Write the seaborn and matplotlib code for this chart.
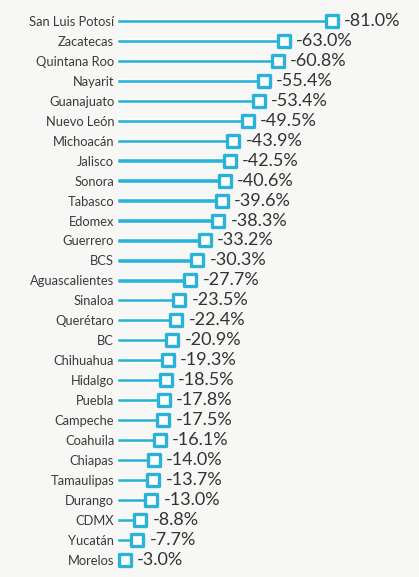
import matplotlib
matplotlib.use("Agg")
import matplotlib.pyplot as plt
import seaborn as sns
import pandas as pd

states = ["San Luis Potosí", "Zacatecas", "Quintana Roo", "Nayarit", "Guanajuato",
          "Nuevo León", "Michoacán", "Jalisco", "Sonora", "Tabasco", "Edomex",
          "Guerrero", "BCS", "Aguascalientes", "Sinaloa", "Querétaro", "BC",
          "Chihuahua", "Hidalgo", "Puebla", "Campeche", "Coahuila", "Chiapas",
          "Tamaulipas", "Durango", "CDMX", "Yucatán", "Morelos"]
changes = [-81.0, -63.0, -60.8, -55.4, -53.4, -49.5, -43.9, -42.5, -40.6, -39.6,
           -38.3, -33.2, -30.3, -27.7, -23.5, -22.4, -20.9, -19.3, -18.5, -17.8,
           -17.5, -16.1, -14.0, -13.7, -13.0, -8.8, -7.7, -3.0]

df = pd.DataFrame({"state": states, "change": changes})
df["mag"] = -df["change"]

sns.set_theme(style="white")
plt.rcParams["font.family"] = ["Lato", "DejaVu Sans"]

color = "#2ab2d9"
bg = "#f7f7f5"
fig = plt.figure(figsize=(4.19, 5.77), dpi=100)
x0 = 117
ax = fig.add_axes([x0 / 419, 0, 1 - x0 / 419, 1])

sns.barplot(data=df, x="mag", y="state", orient="h", color=color, width=0.22,
            saturation=1, ax=ax)
sns.scatterplot(data=df, x="mag", y="state", marker="s", s=66, color="white",
                edgecolor=color, linewidth=2.4, zorder=5, ax=ax)

n = len(states)
step = 19.95
top = 21
ax.set_xlim(0, (419 - x0) / 2.65)
ax.set_ylim(n - 1 + (577 - (top + (n - 1) * step)) / step, -top / step)

for i, (m, c) in enumerate(zip(df["mag"], df["change"])):
    ax.text(m + 4.6, i, f"{c:.1f}%", va="center", ha="left", fontsize=13,
            color="#333333")

ax.set_xlabel("")
ax.set_ylabel("")
ax.set_xticks([])
ax.tick_params(axis="y", length=0, pad=2, labelsize=9.3, labelcolor="#3a3a3a")
for s in ax.spines.values():
    s.set_visible(False)
ax.set_facecolor("none")

fig.savefig("out.png", dpi=100, facecolor=bg)
